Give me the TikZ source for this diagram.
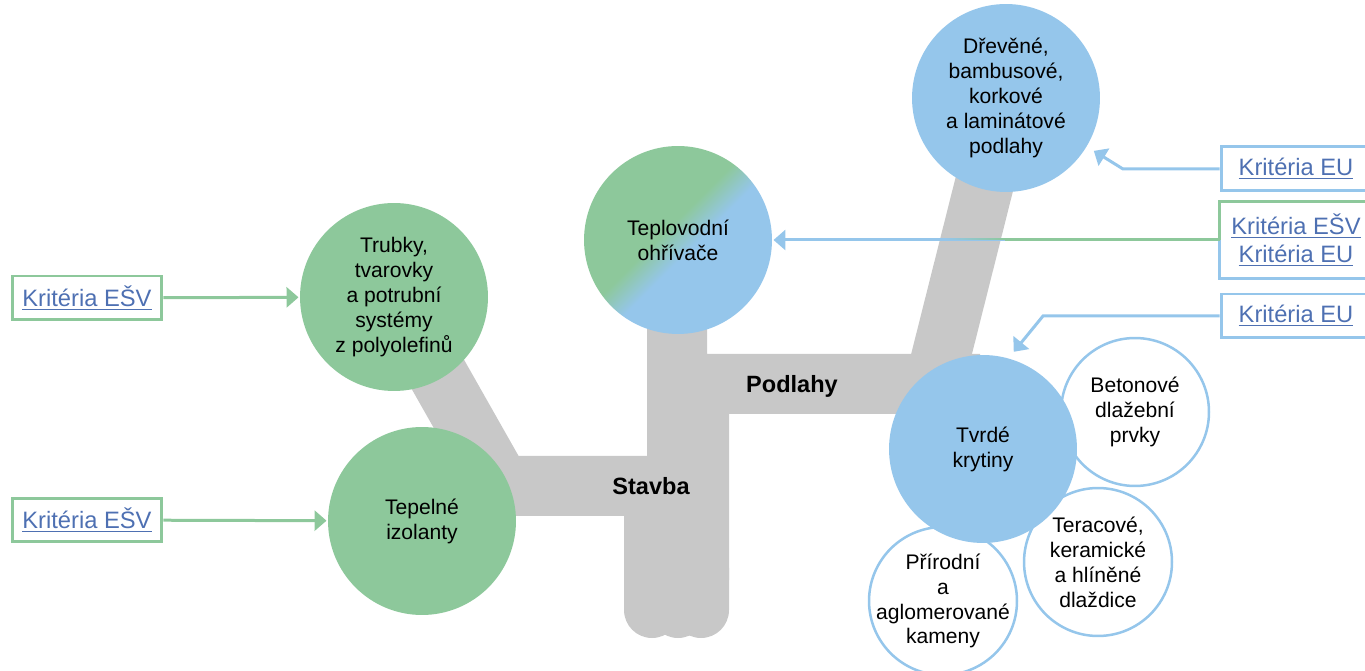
\documentclass[tikz,border=0pt]{standalone}
\usepackage{fontspec}
\setmainfont{Liberation Sans}
\usetikzlibrary{arrows.meta}
\definecolor{esvgreen}{HTML}{8DC89B}
\definecolor{eublue}{HTML}{95C6EB}
\definecolor{trunkgray}{HTML}{C8C8C8}
\definecolor{linkblue}{HTML}{4E70B2}
\pgfdeclarehorizontalshading{heater}{100bp}{color(0bp)=(esvgreen); color(46bp)=(esvgreen); color(54bp)=(eublue); color(100bp)=(eublue)}

\begin{document}
\begin{tikzpicture}[x=0.02cm,y=-0.02cm,>={Triangle[width=0.4cm,length=0.24cm]},line width=0.06cm]
  \tikzset{every node/.style={align=center,font=\fontsize{12}{14.2}\selectfont}}
  \tikzset{big/.style={circle,minimum size=3.76cm,inner sep=0pt},
    small/.style={circle,draw=eublue,fill=white,line width=0.05cm,minimum size=2.96cm,inner sep=0pt},
    link/.style={rectangle,minimum width=3cm,minimum height=0.88cm,inner sep=0pt,
      font=\fontsize{13.5}{15.9}\selectfont,text=linkblue},
    branch/.style={font=\fontsize{13.4}{16}\selectfont\bfseries}}
  \useasboundingbox (0,0) rectangle (1365,671);

  % trunk
  \fill[trunkgray] (647,240) -- (647,456) -- (450,456) -- (450,516) -- (624,516) -- (624,580)
    -- (729,580) -- (729,414) -- (980,414) -- (980,354) -- (707,354) -- (707,240) -- cycle;
  \foreach \a/\b in {624/680,650/706,673/729}
    \fill[trunkgray,rounded corners=0.56cm] (\a,540) rectangle (\b,638);
  \draw[trunkgray,line width=1.2cm] (394,297) -- (500,484);
  \draw[trunkgray,line width=1.18cm] (934,384) -- (1006,98);

  \node[branch] (stavba) at (651,486) {Stavba};
  \node[branch] (podlahy) at (792,386) {Podlahy};

  % circles
  \node[big,fill=esvgreen] (trub) at (394,297) {Trubky,\\tvarovky\\a potrubní\\systémy\\z polyolefinů};
  \node[big,fill=esvgreen] (tep) at (422,521) {Tepelné\\izolanty};
  \node[big,shade,shading=heater,shading angle=-45] (teplo) at (678,240) {Teplovodní\\ohřívače};
  \node[big,fill=eublue] (drev) at (1006,98) {Dřevěné,\\bambusové,\\korkové\\a laminátové\\podlahy};
  \node[small] (beton) at (1135,412) {};
  \node[small] (terac) at (1098,562) {};
  \node[small] (prir) at (943,601) {};
  \node[big,fill=eublue] (tvrd) at (983,449) {Tvrdé\\krytiny};
  \node at (beton) {Betonové\\dlažební\\prvky};
  \node at (terac) {Teracové,\\keramické\\a hlíněné\\dlaždice};
  \node at (prir) {Přírodní\\a\\aglomerované\\kameny};

  % criteria
  \node[link,draw=esvgreen] (esv1) at (87,298) {\underline{Kritéria EŠV}};
  \node[link,draw=esvgreen] (esv2) at (87,520) {\underline{Kritéria EŠV}};
  \node[link,draw=eublue] (eu1) at (1296,169) {\underline{Kritéria EU}};
  \node[link,minimum height=1.48cm] (mix) at (1296,240) {\underline{Kritéria EŠV}\\\underline{Kritéria EU}};
  \node[link,draw=eublue] (eu2) at (1296,316) {\underline{Kritéria EU}};
  \draw[esvgreen] (mix.west) |- (mix.north east);
  \draw[eublue] (mix.west) |- (mix.south east);

  \coordinate (bend1) at (1123,169);
  \coordinate (bend2) at (1043,316);
  \coordinate (fadeR) at (1005,240);

  \draw[->,esvgreen] (esv1) -- (trub);
  \draw[->,esvgreen] (esv2) -- (tep);
  \draw[->,eublue,shorten >=0.14cm] (eu1.west) -- (bend1) -- (drev.-31);
  \draw[->,eublue,shorten >=0.14cm] (eu2.west) -- (bend2) -- (tvrd.74);
  \draw[->,eublue] (mix.west) -- (teplo.east);
  \draw[esvgreen] (mix.west) -- (fadeR);
  \shade[left color=eublue,right color=esvgreen] (945,238.5) rectangle (fadeR);
\end{tikzpicture}
\end{document}
